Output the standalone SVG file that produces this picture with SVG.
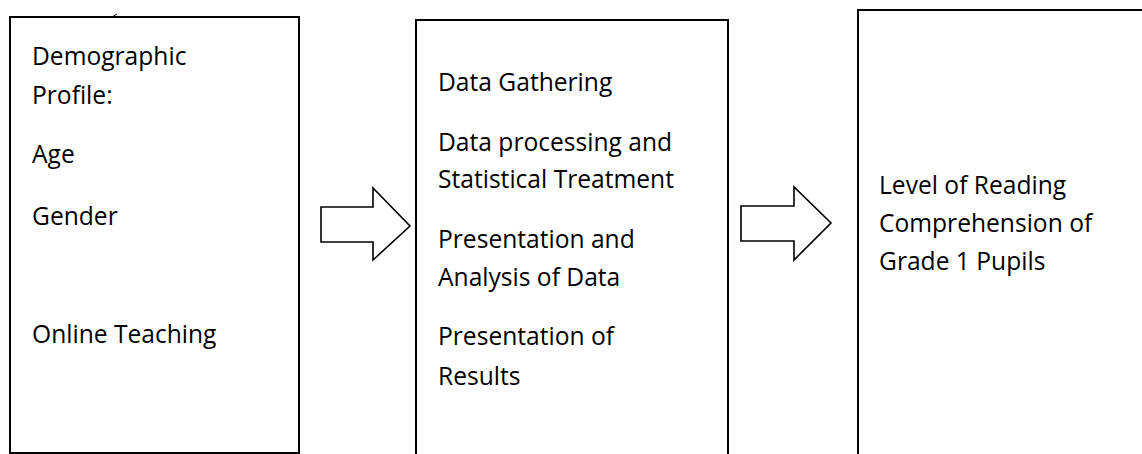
<svg xmlns="http://www.w3.org/2000/svg" width="1142" height="454" viewBox="0 0 1142 454">
<style>
.box{fill:#fff;stroke:#000;stroke-width:2}
.arrow{fill:#fff;stroke:#000;stroke-width:1.6;stroke-linejoin:miter}
text{font-family:"Open Sans","Liberation Sans",sans-serif;font-size:24.6px;fill:#000}
</style>
<rect width="1142" height="454" fill="#fff"/>
<g id="node-demographics">
<rect class="box" x="10" y="17" width="289" height="436"/>
<line x1="112" y1="17" x2="117" y2="14" stroke="#000" stroke-width="1"/>
<text x="32" y="65">Demographic</text>
<text x="32" y="104">Profile:</text>
<text x="32" y="163">Age</text>
<text x="32" y="225">Gender</text>
<text x="32" y="343">Online Teaching</text>
</g>
<g id="node-process">
<rect class="box" x="416" y="20" width="312" height="450"/>
<text x="438" y="91">Data Gathering</text>
<text x="438" y="151">Data processing and</text>
<text x="438" y="188">Statistical Treatment</text>
<text x="438" y="248">Presentation and</text>
<text x="438" y="286">Analysis of Data</text>
<text x="438" y="345">Presentation of</text>
<text x="438" y="385">Results</text>
</g>
<g id="node-output">
<rect class="box" x="858" y="10" width="300" height="460"/>
<text x="879" y="194">Level of Reading</text>
<text x="879" y="232">Comprehension of</text>
<text x="879" y="270">Grade 1 Pupils</text>
</g>
<g id="connectors">
<polygon class="arrow" points="321,207 373,207 373,188 410,226 373,260 373,242 321,242"/>
<polygon class="arrow" points="741,206 794,206 794,187 831,223 794,260 794,241 741,241"/>
</g>
</svg>
